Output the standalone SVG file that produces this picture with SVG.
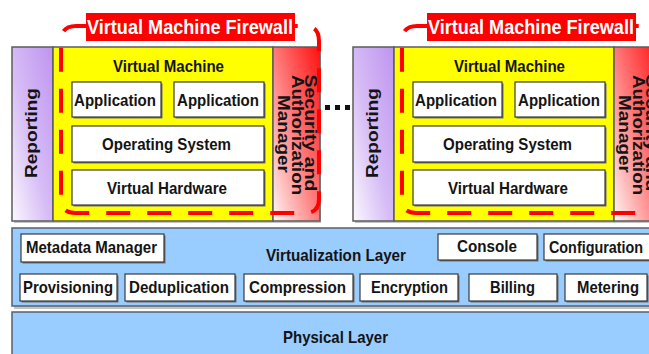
<svg xmlns="http://www.w3.org/2000/svg" width="649" height="354" viewBox="0 0 649 354">
  <defs>
    <linearGradient id="gradReporting" x1="1" y1="0" x2="0" y2="1">
      <stop offset="0" stop-color="#bf94f0"/>
      <stop offset="0.55" stop-color="#d7bdf6"/>
      <stop offset="1" stop-color="#fbf8fe"/>
    </linearGradient>
    <linearGradient id="gradSecurity" x1="1" y1="0" x2="0" y2="1">
      <stop offset="0" stop-color="#ff1010"/>
      <stop offset="0.5" stop-color="#ff7a7a"/>
      <stop offset="1" stop-color="#fff4f4"/>
    </linearGradient>
    <style>
      .t{font-family:"Liberation Sans",Arial,sans-serif;font-weight:bold;font-size:17px;fill:#141414;text-anchor:middle}
      .lbl{font-family:"Liberation Sans",Arial,sans-serif;font-weight:bold;font-size:20px;fill:#ffffff;text-anchor:middle}
      .box{fill:#ffffff;stroke:#3a3a3a;stroke-width:1.2}
      .shd{fill:#6e6e6e}
      .bigshd{fill:#c4c4c4}
      .frame{stroke:#5c5c5c;stroke-width:1.5}
      .fw{fill:none;stroke:#ff0000;stroke-width:4;stroke-dasharray:24 17}
      .layer{fill:#99ccff;stroke:#55606e;stroke-width:1.5}
    </style>
  </defs>

  <rect width="649" height="354" fill="#ffffff"/>

  <!-- first virtual machine stack -->
  <g id="vm-stack-1">
    <rect class="bigshd" x="14" y="49" width="307" height="174"/>
    <g id="reporting-1">
      <rect class="frame" x="12" y="47" width="41" height="174" fill="url(#gradReporting)"/>
      <text class="t" transform="translate(36.5,133) rotate(-90)" textLength="90" lengthAdjust="spacingAndGlyphs">Reporting</text>
    </g>
    <g id="virtual-machine-1">
      <rect class="frame" x="53" y="47" width="220" height="174" fill="#ffff00"/>
      <text class="t" x="168.5" y="72" textLength="111" lengthAdjust="spacingAndGlyphs">Virtual Machine</text>
      <g id="application-1a">
        <rect class="shd" x="73.5" y="83.5" width="89" height="35"/>
        <rect class="box" x="72" y="82" width="89" height="35"/>
        <text class="t" x="115" y="105.5" textLength="82" lengthAdjust="spacingAndGlyphs">Application</text>
      </g>
      <g id="application-1b">
        <rect class="shd" x="175.5" y="83.5" width="90" height="35"/>
        <rect class="box" x="174" y="82" width="90" height="35"/>
        <text class="t" x="218" y="105.5" textLength="82" lengthAdjust="spacingAndGlyphs">Application</text>
      </g>
      <g id="operating-system-1">
        <rect class="shd" x="73.5" y="127.5" width="192" height="36"/>
        <rect class="box" x="72" y="126" width="192" height="36"/>
        <text class="t" x="166.5" y="150" textLength="129" lengthAdjust="spacingAndGlyphs">Operating System</text>
      </g>
      <g id="virtual-hardware-1">
        <rect class="shd" x="73.5" y="171.5" width="192" height="35"/>
        <rect class="box" x="72" y="170" width="192" height="35"/>
        <text class="t" x="167" y="193.5" textLength="120" lengthAdjust="spacingAndGlyphs">Virtual Hardware</text>
      </g>
    </g>
    <g id="security-manager-1">
      <rect class="frame" x="273" y="47" width="47" height="174" fill="url(#gradSecurity)"/>
      <text class="t" transform="translate(305,133) rotate(90)" textLength="117" lengthAdjust="spacingAndGlyphs">Security and</text>
      <text class="t" transform="translate(291.5,135) rotate(90)" textLength="120" lengthAdjust="spacingAndGlyphs">Authorization</text>
      <text class="t" transform="translate(278,134) rotate(90)" textLength="78" lengthAdjust="spacingAndGlyphs">Manager</text>
    </g>
    <g id="firewall-1">
      <path class="fw" d="M86,26 H76 Q61,26 61,41 V199 Q61,213 75,213 H305 Q319,213 319,199 V41 Q319,26 305,26 H295"/>
      <rect x="86" y="13" width="209" height="28" fill="#ff0000"/>
      <text class="lbl" x="190" y="33.5" textLength="206" lengthAdjust="spacingAndGlyphs">Virtual Machine Firewall</text>
    </g>
  </g>

  <!-- ellipsis between stacks -->
  <g id="more-stacks" fill="#111111">
    <rect x="325" y="105" width="5" height="5"/>
    <rect x="335" y="105" width="5" height="5"/>
    <rect x="345" y="105" width="5" height="5"/>
  </g>

  <!-- second virtual machine stack -->
  <g id="vm-stack-2" transform="translate(341,0)">
    <rect class="bigshd" x="14" y="49" width="307" height="174"/>
    <g id="reporting-2">
      <rect class="frame" x="12" y="47" width="41" height="174" fill="url(#gradReporting)"/>
      <text class="t" transform="translate(36.5,133) rotate(-90)" textLength="90" lengthAdjust="spacingAndGlyphs">Reporting</text>
    </g>
    <g id="virtual-machine-2">
      <rect class="frame" x="53" y="47" width="220" height="174" fill="#ffff00"/>
      <text class="t" x="168.5" y="72" textLength="111" lengthAdjust="spacingAndGlyphs">Virtual Machine</text>
      <g id="application-2a">
        <rect class="shd" x="73.5" y="83.5" width="89" height="35"/>
        <rect class="box" x="72" y="82" width="89" height="35"/>
        <text class="t" x="115" y="105.5" textLength="82" lengthAdjust="spacingAndGlyphs">Application</text>
      </g>
      <g id="application-2b">
        <rect class="shd" x="175.5" y="83.5" width="90" height="35"/>
        <rect class="box" x="174" y="82" width="90" height="35"/>
        <text class="t" x="218" y="105.5" textLength="82" lengthAdjust="spacingAndGlyphs">Application</text>
      </g>
      <g id="operating-system-2">
        <rect class="shd" x="73.5" y="127.5" width="192" height="36"/>
        <rect class="box" x="72" y="126" width="192" height="36"/>
        <text class="t" x="166.5" y="150" textLength="129" lengthAdjust="spacingAndGlyphs">Operating System</text>
      </g>
      <g id="virtual-hardware-2">
        <rect class="shd" x="73.5" y="171.5" width="192" height="35"/>
        <rect class="box" x="72" y="170" width="192" height="35"/>
        <text class="t" x="167" y="193.5" textLength="120" lengthAdjust="spacingAndGlyphs">Virtual Hardware</text>
      </g>
    </g>
    <g id="security-manager-2">
      <rect class="frame" x="273" y="47" width="47" height="174" fill="url(#gradSecurity)"/>
      <text class="t" transform="translate(305,133) rotate(90)" textLength="117" lengthAdjust="spacingAndGlyphs">Security and</text>
      <text class="t" transform="translate(291.5,135) rotate(90)" textLength="120" lengthAdjust="spacingAndGlyphs">Authorization</text>
      <text class="t" transform="translate(278,134) rotate(90)" textLength="78" lengthAdjust="spacingAndGlyphs">Manager</text>
    </g>
    <g id="firewall-2">
      <path class="fw" d="M86,26 H76 Q61,26 61,41 V199 Q61,213 75,213 H305 Q319,213 319,199 V41 Q319,26 305,26 H295"/>
      <rect x="86" y="13" width="209" height="28" fill="#ff0000"/>
      <text class="lbl" x="190" y="33.5" textLength="206" lengthAdjust="spacingAndGlyphs">Virtual Machine Firewall</text>
    </g>
  </g>

  <!-- virtualization layer -->
  <g id="virtualization-layer">
    <rect class="bigshd" x="14" y="230" width="650" height="79"/>
    <rect class="layer" x="12" y="228" width="650" height="78"/>
    <text class="t" x="336" y="260.5" textLength="140" lengthAdjust="spacingAndGlyphs">Virtualization Layer</text>
    <g id="metadata-manager">
      <rect class="shd" x="22.5" y="235.5" width="143" height="28"/>
      <rect class="box" x="21" y="234" width="143" height="28"/>
      <text class="t" x="91.5" y="253" textLength="131" lengthAdjust="spacingAndGlyphs">Metadata Manager</text>
    </g>
    <g id="console">
      <rect class="shd" x="439.5" y="235.5" width="99" height="26"/>
      <rect class="box" x="438" y="234" width="99" height="26"/>
      <text class="t" x="487" y="252" textLength="60" lengthAdjust="spacingAndGlyphs">Console</text>
    </g>
    <g id="configuration">
      <rect class="shd" x="545.5" y="235.5" width="110" height="26"/>
      <rect class="box" x="544" y="234" width="110" height="26"/>
      <text class="t" x="596" y="252.5" textLength="94" lengthAdjust="spacingAndGlyphs">Configuration</text>
    </g>
    <g id="provisioning">
      <rect class="shd" x="21.5" y="275.5" width="97" height="27"/>
      <rect class="box" x="20" y="274" width="97" height="27"/>
      <text class="t" x="68" y="293" textLength="90" lengthAdjust="spacingAndGlyphs">Provisioning</text>
    </g>
    <g id="deduplication">
      <rect class="shd" x="126.5" y="275.5" width="110" height="27"/>
      <rect class="box" x="125" y="274" width="110" height="27"/>
      <text class="t" x="179" y="293" textLength="100" lengthAdjust="spacingAndGlyphs">Deduplication</text>
    </g>
    <g id="compression">
      <rect class="shd" x="245.5" y="275.5" width="109" height="27"/>
      <rect class="box" x="244" y="274" width="109" height="27"/>
      <text class="t" x="297.5" y="293" textLength="97" lengthAdjust="spacingAndGlyphs">Compression</text>
    </g>
    <g id="encryption">
      <rect class="shd" x="361.5" y="275.5" width="98" height="27"/>
      <rect class="box" x="360" y="274" width="98" height="27"/>
      <text class="t" x="409.5" y="293" textLength="77" lengthAdjust="spacingAndGlyphs">Encryption</text>
    </g>
    <g id="billing">
      <rect class="shd" x="470.5" y="275.5" width="88" height="27"/>
      <rect class="box" x="469" y="274" width="88" height="27"/>
      <text class="t" x="512.5" y="293" textLength="45" lengthAdjust="spacingAndGlyphs">Billing</text>
    </g>
    <g id="metering">
      <rect class="shd" x="566.5" y="275.5" width="82" height="27"/>
      <rect class="box" x="565" y="274" width="82" height="27"/>
      <text class="t" x="608" y="293" textLength="62" lengthAdjust="spacingAndGlyphs">Metering</text>
    </g>
  </g>

  <!-- physical layer -->
  <g id="physical-layer">
    <rect class="layer" x="12" y="312" width="650" height="50"/>
    <text class="t" x="335.5" y="342.5" textLength="105" lengthAdjust="spacingAndGlyphs">Physical Layer</text>
  </g>
</svg>
